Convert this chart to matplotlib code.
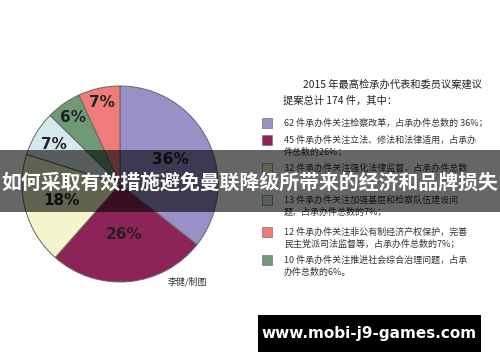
import matplotlib
matplotlib.use("Agg")
import matplotlib.pyplot as plt
import numpy as np
from matplotlib.patches import Rectangle

plt.rcParams['font.family'] = ['Noto Sans CJK SC', 'DejaVu Sans']

counts = [62, 45, 32, 13, 10, 12]
colors = ['#9a90c8', '#8c2458', '#f5f5cc', '#d4e8ee', '#6f9a78', '#ee7c78']
label_dist = [0.57, 0.52, 0.62, 0.79, 0.83, 0.85]
title_lines = ["2015 年最高检承办代表和委员议案建议", "提案总计 174 件，其中："]
legend_items = [
    ["62 件承办件关注检察改革，占承办件总数的 36%；"],
    ["45 件承办件关注立法、修法和法律适用，占承办", "件总数的26%；"],
    ["32 件承办件关注强化法律监督，占承办件总数"],
    ["13 件承办件关注加强基层和检察队伍建设问", "题，占承办件总数的7%；"],
    ["12 件承办件关注非公有制经济产权保护，完善", "民主党派司法监督等，占承办件总数的7%；"],
    ["10 件承办件关注推进社会综合治理问题，占承", "办件总数的6%。"],
]
legend_colors = ['#9a90c8', '#8c2458', '#f5f5cc', '#d4e8ee', '#ee7c78', '#6f9a78']
legend_y = [123, 140, 168, 200, 232, 260]
banner_text = "如何采取有效措施避免曼联降级所带来的经济和品牌损失"
watermark = "www.mobi-j9-games.com"
credit = "李健/制图"

W, H = 500, 362
fig = plt.figure(figsize=(W/100, H/100), dpi=100)
fig.patch.set_facecolor('white')

cx, cy, r = 120, 184, 98
ax = fig.add_axes([(cx - r)/W, (H - cy - r)/H, 2*r/W, 2*r/H])
wedges, _ = ax.pie(counts, colors=colors, startangle=90, counterclock=False,
                   wedgeprops=dict(edgecolor='#666666', linewidth=0.7))
total = sum(counts)
for w, c, d in zip(wedges, counts, label_dist):
    th = np.deg2rad((w.theta1 + w.theta2) / 2)
    ax.text(d*np.cos(th), d*np.sin(th), f"{round(100*c/total):d}%",
            ha='center', va='center', fontsize=11, fontweight='bold',
            color='#222222', family='DejaVu Sans')
ax.set_xlim(-1, 1); ax.set_ylim(-1, 1)
ax.set_aspect('auto')
ax.axis('off')

def fy(y):
    return 1 - y/H

fig.text(303/W, fy(85), title_lines[0], fontsize=7.4, color='#222222', va='center', ha='left')
fig.text(283/W, fy(101), title_lines[1], fontsize=7.4, color='#222222', va='center', ha='left')

for lines, col, y in zip(legend_items, legend_colors, legend_y):
    fig.patches.append(Rectangle(((262)/W, fy(y+5)), 10/W, 10/H, transform=fig.transFigure,
                                 facecolor=col, edgecolor='#777777', linewidth=0.5))
    for i, ln in enumerate(lines):
        fig.text(284/W, fy(y + i*12), ln, fontsize=6.5, color='#333333', va='center', ha='left')

fig.text(187/W, fy(282), credit, fontsize=6.5, color='#333333', va='center', ha='center')

# banner overlay
fig.patches.append(Rectangle((0, fy(212)), 1, 62/H, transform=fig.transFigure,
                             facecolor='black', alpha=0.6, edgecolor='none', zorder=5))
fig.text(0.5, fy(182), banner_text, fontsize=14.3, fontweight='bold', color='white',
         ha='center', va='center', zorder=6)

# watermark
fig.patches.append(Rectangle((258/W, fy(352)), 223/W, 37/H, transform=fig.transFigure,
                             facecolor='black', edgecolor='none', zorder=5))
fig.text(369.5/W, fy(333.5), watermark, fontsize=11, fontweight='bold', color='white',
         ha='center', va='center', zorder=6, family='DejaVu Sans')

fig.savefig('out.png', dpi=100)
